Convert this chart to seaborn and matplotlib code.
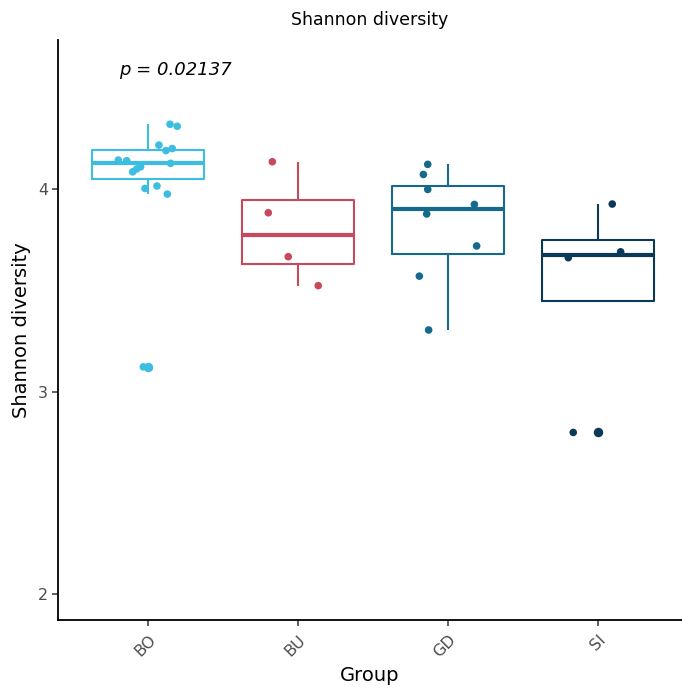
import matplotlib
matplotlib.use("Agg")
import matplotlib.pyplot as plt
import seaborn as sns
import numpy as np
import pandas as pd

# Shannon diversity per sample
groups = ["BO", "BU", "GD", "SI"]
group_colors = ["#3DBDE0", "#C8485C", "#156A8C", "#0B3A58"]

bo_values = [4.320, 4.310, 4.217, 4.190, 4.200, 4.143, 4.140, 4.127,
             4.110, 4.099, 4.085, 4.003, 4.015, 3.975, 3.122]
bu_values = [4.135, 3.883, 3.666, 3.523]
gd_values = [4.122, 4.072, 3.998, 3.924, 3.877, 3.719, 3.570, 3.304]
si_values = [3.926, 3.690, 3.661, 2.798]

# horizontal jitter of each sample (fraction of a category slot)
bo_jitter = [0.147, 0.195, 0.073, 0.120, 0.162, -0.198, -0.142, 0.151,
             -0.049, -0.075, -0.102, -0.020, 0.060, 0.129, -0.031]
bu_jitter = [-0.171, -0.198, -0.065, 0.135]
gd_jitter = [-0.135, -0.164, -0.135, 0.176, -0.142, 0.191, -0.191, -0.129]
si_jitter = [0.095, 0.151, -0.198, -0.165]

p_label = "p = 0.02137"

values = [bo_values, bu_values, gd_values, si_values]
jitters = [bo_jitter, bu_jitter, gd_jitter, si_jitter]
df = pd.DataFrame({
    "Group": np.repeat(groups, [len(v) for v in values]),
    "Shannon": np.concatenate(values),
    "jitter": np.concatenate(jitters),
})
df["Group"] = pd.Categorical(df["Group"], categories=groups, ordered=True)
df["xpos"] = df["Group"].cat.codes + df["jitter"]
palette = dict(zip(groups, group_colors))

sns.set_style("ticks")
plt.rcParams["font.family"] = ["DejaVu Sans"]
plt.rcParams["text.color"] = "black"
plt.rcParams["axes.labelcolor"] = "black"

fig = plt.figure(figsize=(6.82, 6.90), dpi=100)
ax = fig.add_axes([0.085, 0.1015, 0.915, 0.8405])

sns.boxplot(
    data=df, x="Group", y="Shannon", hue="Group", order=groups,
    hue_order=groups, palette=palette, fill=False, width=0.75,
    linewidth=1.5, whis=1.5, legend=False, ax=ax,
    medianprops={"linewidth": 3.0},
    capprops={"visible": False},
    flierprops={"marker": "o", "markersize": 5.8},
)

# make outlier dots solid in their group colour
for line in ax.lines:
    if line.get_marker() == "o":
        xs = line.get_xdata()
        if len(xs):
            col = group_colors[int(round(float(xs[0])))]
            line.set_markerfacecolor(col)
            line.set_markeredgecolor(col)
            line.set_zorder(3)

sns.scatterplot(
    data=df, x="xpos", y="Shannon", hue="Group", palette=palette,
    hue_order=groups, s=30, linewidth=0, legend=False, ax=ax, zorder=4,
)

ax.text(-0.19, 4.59, p_label, fontsize=13, style="italic",
        ha="left", va="center", color="black")

ax.set_xlim(-0.6, 3.56)
ax.set_ylim(1.872, 4.736)
ax.set_xticks(range(len(groups)))
ax.set_xticklabels(groups, rotation=45, ha="right", va="top",
                   rotation_mode="anchor")
ax.set_yticks([2, 3, 4])
ax.set_yticklabels(["2", "3", "4"])
ax.tick_params(axis="both", length=4, width=1.1, colors="#333333",
               labelcolor="#4D4D4D", labelsize=11.5, pad=3)
ax.tick_params(axis="x", pad=5)

for side in ["top", "right"]:
    ax.spines[side].set_visible(False)
for side in ["left", "bottom"]:
    ax.spines[side].set_color("black")
    ax.spines[side].set_linewidth(1.3)

ax.set_xlabel("Group", fontsize=14, labelpad=4, color="black")
ax.set_ylabel("Shannon diversity", fontsize=14, labelpad=5, color="black")
ax.set_title("Shannon diversity", fontsize=12.5, pad=11, color="black")

fig.savefig("out.png", dpi=100)
